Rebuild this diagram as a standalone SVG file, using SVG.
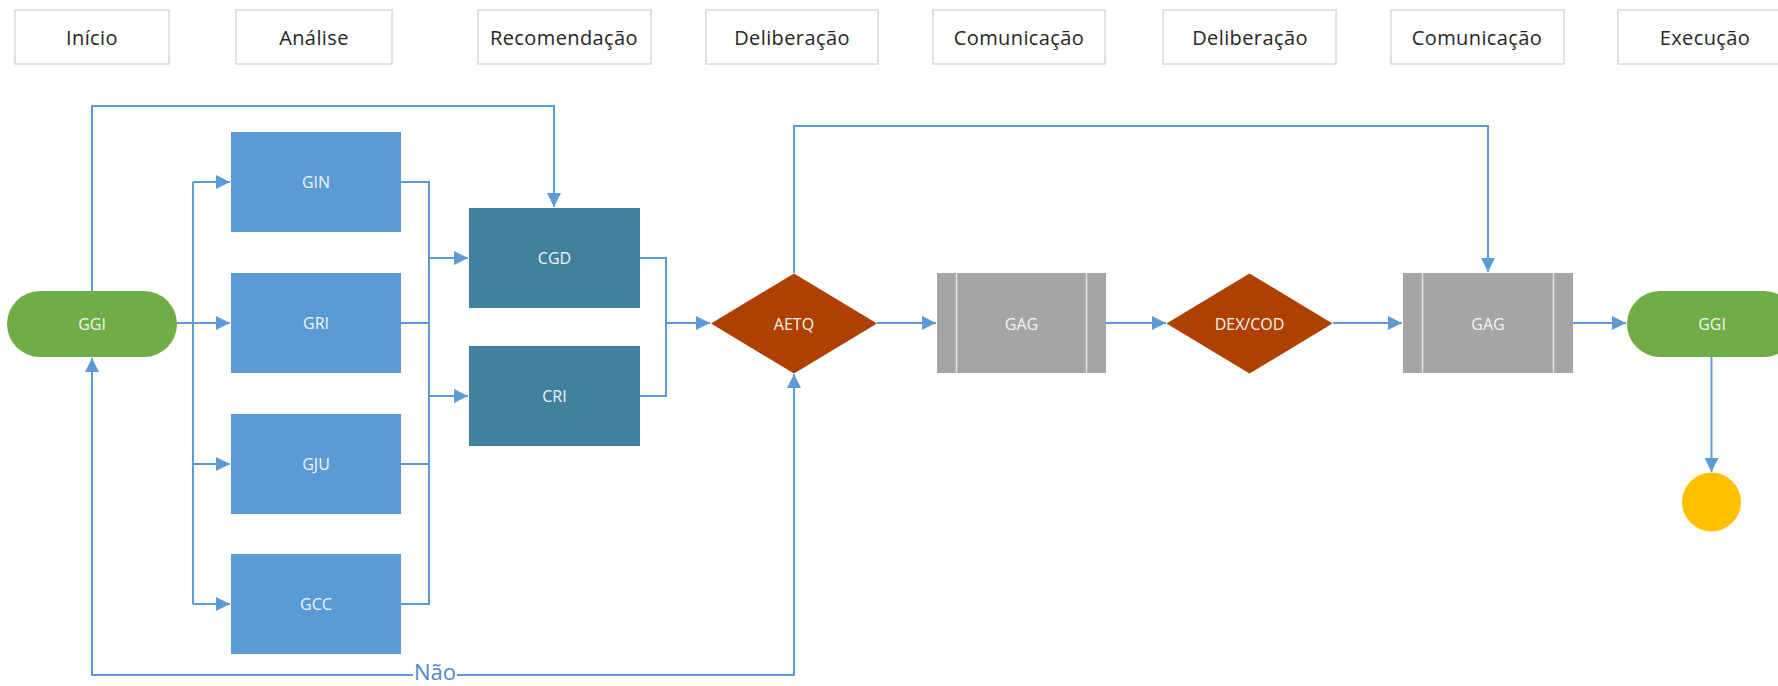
<svg xmlns="http://www.w3.org/2000/svg" width="1778" height="686" viewBox="0 0 1778 686">
  <style>
    .hdr rect { fill: #ffffff; stroke: #D9D9D9; stroke-width: 1.5; }
    .hdr text { font-family: "Open Sans", "Liberation Sans", sans-serif; font-size: 20px; fill: #262626; text-anchor: middle; dominant-baseline: central; letter-spacing: 0.4px; }
    .lbl { font-family: "Open Sans", "Liberation Sans", sans-serif; font-size: 16px; fill: #F4F4F4; text-anchor: middle; dominant-baseline: central; }
    .green { fill: #70AD47; }
    .blue { fill: #5B9BD5; }
    .teal { fill: #41809E; }
    .brown { fill: #AE4000; }
    .gray { fill: #A5A5A5; }
    .bar { stroke: #E6E6E6; stroke-width: 1.5; }
    .conn { fill: none; stroke: #5B9BD5; stroke-width: 2; }
    .arr { marker-end: url(#ah); }
    .nao { font-family: "Open Sans", "Liberation Sans", sans-serif; font-size: 22px; fill: #4E87C4; text-anchor: middle; dominant-baseline: central; }
  </style>
  <defs>
    <marker id="ah" markerUnits="userSpaceOnUse" markerWidth="14" markerHeight="14" refX="14" refY="7" orient="auto">
      <path d="M0,0 L14,7 L0,14 z" fill="#5B9BD5"/>
    </marker>
  </defs>

  <rect width="1778" height="686" fill="#ffffff"/>

  <!-- Header phases -->
  <g id="phases">
    <g id="ph-inicio" class="hdr"><rect x="15" y="10" width="154" height="54"/><text x="92" y="37">Início</text></g>
    <g id="ph-analise" class="hdr"><rect x="236" y="10" width="156" height="54"/><text x="314" y="37">Análise</text></g>
    <g id="ph-recomendacao" class="hdr"><rect x="478" y="10" width="173" height="54"/><text x="564" y="37">Recomendação</text></g>
    <g id="ph-deliberacao1" class="hdr"><rect x="706" y="10" width="172" height="54"/><text x="792" y="37">Deliberação</text></g>
    <g id="ph-comunicacao1" class="hdr"><rect x="933" y="10" width="172" height="54"/><text x="1019" y="37">Comunicação</text></g>
    <g id="ph-deliberacao2" class="hdr"><rect x="1163" y="10" width="173" height="54"/><text x="1250" y="37">Deliberação</text></g>
    <g id="ph-comunicacao2" class="hdr"><rect x="1391" y="10" width="173" height="54"/><text x="1477" y="37">Comunicação</text></g>
    <g id="ph-execucao" class="hdr"><rect x="1618" y="10" width="174" height="54"/><text x="1705" y="37">Execução</text></g>
  </g>

  <!-- Connectors -->
  <g id="connectors">
    <path class="conn arr" d="M92,291 V106 H554 V207"/>
    <path class="conn arr" d="M177,323 H230"/>
    <path class="conn" d="M193,182 V604"/>
    <path class="conn arr" d="M193,182 H230"/>
    <path class="conn arr" d="M193,464 H230"/>
    <path class="conn arr" d="M193,604 H230"/>
    <path class="conn" d="M401,182 H429 V604 H401"/>
    <path class="conn" d="M401,323 H429"/>
    <path class="conn" d="M401,464 H429"/>
    <path class="conn arr" d="M429,258 H468"/>
    <path class="conn arr" d="M429,396 H468"/>
    <path class="conn" d="M640,258 H666 V396 H640"/>
    <path class="conn arr" d="M666,323 H710"/>
    <path class="conn arr" d="M794,273 V126 H1488 V272"/>
    <path class="conn arr" d="M877,323 H936"/>
    <path class="conn arr" d="M1106,323 H1166"/>
    <path class="conn arr" d="M1333,323 H1402"/>
    <path class="conn arr" d="M1573,323 H1626"/>
    <path class="conn arr" d="M1711.5,357 V472"/>
    <path class="conn arr" d="M435,675 H92 V358"/>
    <path class="conn arr" d="M435,675 H794 V374"/>
    <rect x="413" y="663" width="44" height="23" fill="#ffffff"/>
    <text class="nao" x="435" y="671">Não</text>
  </g>

  <!-- Nodes -->
  <g id="ggi-start"><rect class="green" x="7" y="291" width="170" height="66" rx="33"/><text class="lbl" x="92" y="324">GGI</text></g>
  <g id="gin"><rect class="blue" x="231" y="132" width="170" height="100"/><text class="lbl" x="316" y="182">GIN</text></g>
  <g id="gri"><rect class="blue" x="231" y="273" width="170" height="100"/><text class="lbl" x="316" y="323">GRI</text></g>
  <g id="gju"><rect class="blue" x="231" y="414" width="170" height="100"/><text class="lbl" x="316" y="464">GJU</text></g>
  <g id="gcc"><rect class="blue" x="231" y="554" width="170" height="100"/><text class="lbl" x="316" y="604">GCC</text></g>
  <g id="cgd"><rect class="teal" x="469" y="208" width="171" height="100"/><text class="lbl" x="554.5" y="258">CGD</text></g>
  <g id="cri"><rect class="teal" x="469" y="346" width="171" height="100"/><text class="lbl" x="554.5" y="396">CRI</text></g>
  <g id="aetq"><polygon class="brown" points="794,273.5 877,323.5 794,373.5 711,323.5"/><text class="lbl" x="794" y="324">AETQ</text></g>
  <g id="gag1"><rect class="gray" x="937" y="273" width="169" height="100"/><line class="bar" x1="956.5" y1="273" x2="956.5" y2="373"/><line class="bar" x1="1086.5" y1="273" x2="1086.5" y2="373"/><text class="lbl" x="1021.5" y="324">GAG</text></g>
  <g id="dexcod"><polygon class="brown" points="1249.5,273.5 1332.5,323.5 1249.5,373.5 1166.5,323.5"/><text class="lbl" x="1249.5" y="324">DEX/COD</text></g>
  <g id="gag2"><rect class="gray" x="1403" y="273" width="170" height="100"/><line class="bar" x1="1422.5" y1="273" x2="1422.5" y2="373"/><line class="bar" x1="1553.5" y1="273" x2="1553.5" y2="373"/><text class="lbl" x="1488" y="324">GAG</text></g>
  <g id="ggi-end"><rect class="green" x="1627" y="291" width="170" height="66" rx="33"/><text class="lbl" x="1712" y="324">GGI</text></g>
  <g id="end"><circle cx="1711.5" cy="502" r="29.5" fill="#FFC000"/></g>
</svg>
